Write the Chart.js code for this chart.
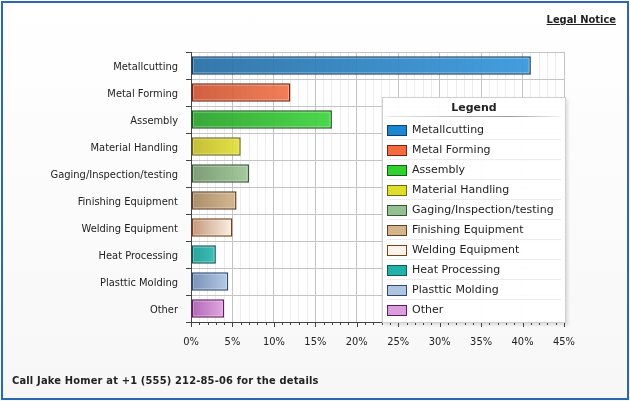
<!DOCTYPE html>
<html>
<head>
<meta charset="utf-8">
<script src="https://cdn.jsdelivr.net/npm/chart.js@4/dist/chart.umd.min.js"></script>
<style>
  html, body { margin: 0; padding: 0; background: #fff; }
  #wrap { position: relative; width: 630px; height: 401px; overflow: hidden;
          background: linear-gradient(#ffffff, #f7f7f7); }
  #frame { position: absolute; left: 1px; top: 1px; width: 624px; height: 395px;
           border: 2px solid #2a69b2; pointer-events: none; }
  canvas { position: absolute; left: 0; top: 0; }
  .tahoma { font-family: "DejaVu Sans Condensed", "Liberation Sans", sans-serif; }
  #legal { position: absolute; right: 14px; top: 13px; font-size: 11px; font-weight: bold;
           text-decoration: underline; color: #222; }
  #note { position: absolute; left: 12px; top: 374px; font-size: 11px; font-weight: bold;
          letter-spacing: 0.18px; color: #222; }
  #legend { position: absolute; left: 382px; top: 97px; width: 182px; height: 224px;
            background: rgba(255,255,255,0.96); border: 1px solid #cfcfcf;
            box-shadow: 2px 2px 3px rgba(0,0,0,0.12);
            font-family: "DejaVu Sans", Verdana, sans-serif; font-size: 11px; color: #222; }
  #legend .title { height: 18px; line-height: 20px; text-align: center; font-weight: bold; }
  #legend .rule { height: 1px; margin: 0 4px 3px 4px;
                  background: linear-gradient(90deg, rgba(150,150,150,0.2), #999 70%, rgba(150,150,150,0.1)); }
  #legend .item { position: relative; height: 19px; border-bottom: 1px solid #ececec; margin: 0 4px 0 4px; }
  #legend .item:last-child { border-bottom: none; }
  #legend .box { position: absolute; left: 0; top: 5px; width: 18px; height: 9px; border: 1px solid; }
  #legend .lab { position: absolute; left: 25px; top: 2px; line-height: 15px; }
</style>
</head>
<body>
<div id="wrap">
  <canvas id="chart" width="630" height="401"></canvas>
  <div id="legal" class="tahoma">Legal Notice</div>
  <div id="note" class="tahoma">Call Jake Homer at +1 (555) 212-85-06 for the details</div>
  <div id="legend"></div>
  <div id="frame"></div>
</div>
<script>
// data
let categories = ['Metallcutting', 'Metal Forming', 'Assembly', 'Material Handling',
    'Gaging/Inspection/testing', 'Finishing Equipment', 'Welding Equipment',
    'Heat Processing', 'Plasttic Molding', 'Other'];
let shares = [41, 12, 17, 6, 7, 5.5, 5, 3, 4.5, 4];   // percent
let xTicks = [0, 5, 10, 15, 20, 25, 30, 35, 40, 45];

// colours: legend swatch, bar left, bar right, outline
let swatch = ['#1b87d2', '#f26a3e', '#2ed12e', '#dedd2a', '#92c08e', '#d4b48a', '#fdf3ea', '#22b2aa', '#aec4e0', '#dc9ddc'];
let barLeft = ['#2870a6', '#cc5534', '#2ca22c', '#c0bb2a', '#74966c', '#a4865e', '#c08e70', '#1c9c94', '#7088b0', '#aa5cb0'];
let barRight = ['#3798dc', '#f0784e', '#40d640', '#e2e03a', '#9ec696', '#d4b58c', '#fbf0e4', '#30bab2', '#b0c8e6', '#e0a4e0'];
let outline = ['#143e62', '#7a2410', '#165c16', '#6e6a14', '#365636', '#5e4024', '#7a4018', '#0c5a56', '#2e4a70', '#621a62'];

const axisFont = { family: '"DejaVu Sans Condensed", "Liberation Sans", sans-serif', size: 11 };

function barGradient(ctx) {
    let i = ctx.dataIndex;
    let chart = ctx.chart;
    if (!chart.chartArea) return barRight[i];
    let x = chart.scales.x;
    let x0 = x.getPixelForValue(0), x1 = x.getPixelForValue(shares[i]);
    let g = chart.ctx.createLinearGradient(x0, 0, x1, 0);
    g.addColorStop(0, barLeft[i] + 'f0');
    g.addColorStop(1, barRight[i] + 'f0');
    return g;
}

// white plot background, glossy inner edge on bars, custom x tick marks
let decor = {
    id: 'decor',
    beforeDraw(chart) {
        let a = chart.chartArea, c = chart.ctx;
        c.save();
        c.fillStyle = '#ffffff';
        c.fillRect(a.left, a.top, a.right - a.left, a.bottom - a.top);
        c.restore();
    },
    afterDatasetsDraw(chart) {
        let c = chart.ctx;
        c.save();
        c.strokeStyle = 'rgba(255,255,255,0.28)';
        c.lineWidth = 1;
        chart.getDatasetMeta(0).data.forEach(b => {
            let l = Math.min(b.base, b.x), r = Math.max(b.base, b.x);
            let t = b.y - b.height / 2;
            c.strokeRect(l + 2, t + 2, r - l - 4, b.height - 4);
        });
        c.restore();
    },
    afterDraw(chart) {
        let x = chart.scales.x, a = chart.chartArea, c = chart.ctx;
        c.save();
        c.strokeStyle = '#444';
        c.lineWidth = 1;
        c.beginPath();
        for (let v = 0; v <= 45; v++) {
            let px = Math.round(x.getPixelForValue(v)) + 0.5;
            let len = (v % 5 === 0) ? 5 : 3;
            c.moveTo(px, a.bottom);
            c.lineTo(px, a.bottom + len);
        }
        c.stroke();
        c.restore();
    }
};

new Chart(document.getElementById('chart'), {
    type: 'bar',
    data: {
        labels: categories,
        datasets: [{
            data: shares,
            backgroundColor: barGradient,
            borderColor: outline,
            borderWidth: 1.5,
            borderSkipped: false,
            barPercentage: 0.68,
            categoryPercentage: 1
        }]
    },
    options: {
        indexAxis: 'y',
        responsive: false,
        animation: false,
        layout: { padding: { left: 0, top: 52, right: 66, bottom: 49 } },
        plugins: { legend: { display: false }, tooltip: { enabled: false } },
        scales: {
            x: {
                min: 0, max: 45,
                afterFit(s) { s.height = 30; },
                ticks: {
                    stepSize: 1, autoSkip: false, maxRotation: 0, padding: 9,
                    color: '#222', font: axisFont,
                    callback: v => xTicks.includes(v) ? v + '%' : ''
                },
                grid: {
                    color: c => (c.tick && c.tick.value % 5 === 0) ? '#c4c4c4' : '#ececec',
                    tickLength: 5, tickColor: 'rgba(0,0,0,0)'
                },
                border: { color: '#444' }
            },
            y: {
                afterFit(s) { s.width = 191; },
                ticks: { color: '#222', font: axisFont, padding: 8, labelOffset: 1.5 },
                grid: { color: '#c4c4c4', tickLength: 5, tickColor: '#444' },
                border: { color: '#444' }
            }
        }
    },
    plugins: [decor]
});

// legend built from the same arrays
let lg = '<div class="title">Legend</div><div class="rule"></div>';
categories.forEach((name, i) => {
    lg += '<div class="item"><span class="box" style="background:' + swatch[i] +
        ';border-color:' + outline[i] + '"></span><span class="lab">' + name + '</span></div>';
});
document.getElementById('legend').innerHTML = lg;
</script>
</body>
</html>
